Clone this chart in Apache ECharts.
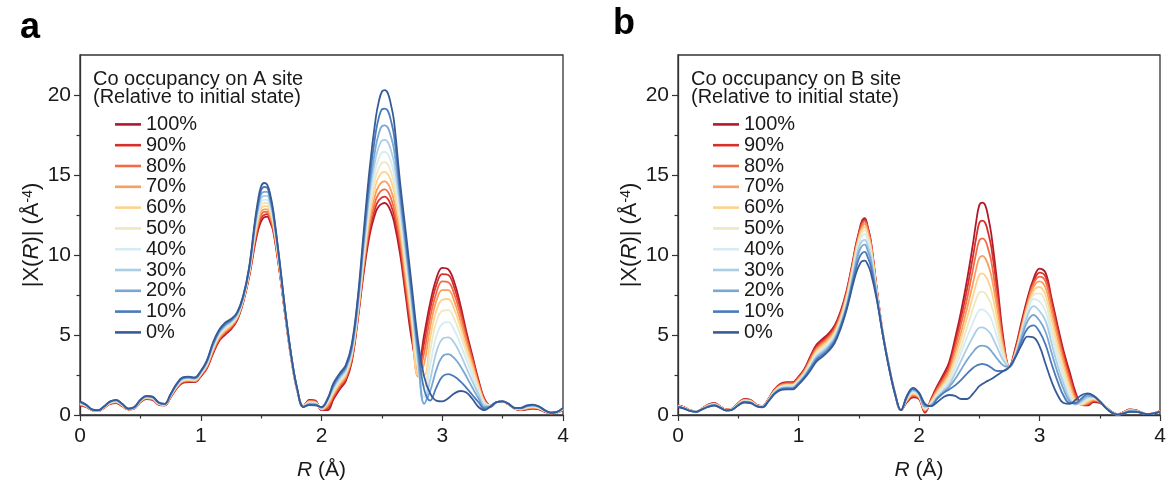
<!DOCTYPE html>
<html>
<head>
<meta charset="utf-8">
<script src="https://cdn.jsdelivr.net/npm/echarts@6/dist/echarts.min.js"></script>
<style>
  html, body { margin: 0; padding: 0; background: #fff; }
  #chart { width: 1169px; height: 491px; }
</style>
</head>
<body>
<div id="chart"></div>
<script>
// Radial distance grid (Å)
const R = [0,.05,.1,.15,.2,.25,.3,.35,.4,.45,.5,.55,.6,.65,.7,.75,.8,.85,.9,.95,
  1,1.05,1.1,1.15,1.2,1.25,1.3,1.35,1.4,1.45,1.5,1.55,1.6,1.65,1.7,1.75,1.8,1.85,1.9,1.95,
  2,2.05,2.1,2.15,2.2,2.25,2.3,2.35,2.4,2.45,2.5,2.55,2.6,2.65,2.7,2.75,2.8,2.85,2.9,2.95,
  3,3.05,3.1,3.15,3.2,3.25,3.3,3.35,3.4,3.45,3.5,3.55,3.6,3.65,3.7,3.75,3.8,3.85,3.9,3.95,4];
// Extra samples around the two main peaks
const Rpeak = [1.475, 1.525, 1.575, 2.475, 2.525, 2.575];

const levels = ['100%','90%','80%','70%','60%','50%','40%','30%','20%','10%','0%'];
const levelColors = ['#b2182b','#d6302a','#f36b44','#fb9d5f','#fed28a','#eee8c2',
                     '#d6ebf4','#a9cee5','#79a6d2','#4a7aba','#375b98'];

const xTicks = [0, 1, 2, 3, 4];
const yTicks = [0, 5, 10, 15, 20];
const yMinorTicks = [2.5, 7.5, 12.5, 17.5];

// |X(R)| — Co occupancy on A site
const occA100 = [.60,.50,.30,.25,.45,.70,.75,.55,.35,.40,.80,1.00,.95,.65,.60,1.10,1.65,2.00,2.05,2.05,2.40,
  2.90,3.80,4.60,5.00,5.35,5.90,7.00,8.60,10.7,12.1,12.4,11.5,9.1,6.2,3.5,1.5,.55,.95,.90,.30,
  .30,1.0,1.6,2.1,3.3,5.9,8.9,11.3,12.7,13.2,13.1,12.1,10.1,7.3,4.6,3.0,5.0,7.0,8.5,9.2,
  9.1,8.3,6.9,5.2,3.7,2.2,1.0,.6,.8,.85,.65,.40,.30,.35,.40,.35,.20,.10,.15,.30];
const occA90 = [.62,.52,.30,.25,.46,.72,.77,.57,.35,.41,.82,1.02,.97,.67,.61,1.12,1.68,2.04,2.09,2.08,2.44,
  2.95,3.87,4.67,5.08,5.42,5.95,7.04,8.66,10.85,12.3,12.55,11.6,9.15,6.2,3.5,1.5,.55,.92,.87,.32,
  .40,1.1,1.7,2.2,3.4,6.0,9.1,11.6,13.05,13.6,13.5,12.5,10.5,7.6,4.9,2.7,4.5,6.6,8.1,8.8,
  8.75,7.95,6.6,5.0,3.55,2.1,.95,.6,.8,.85,.65,.40,.31,.37,.42,.37,.21,.10,.15,.31];
const occA80 = [.65,.53,.31,.26,.47,.73,.79,.58,.36,.42,.83,1.04,.99,.68,.62,1.14,1.71,2.07,2.12,2.11,2.47,
  3.00,3.94,4.74,5.15,5.48,6.00,7.08,8.72,11.0,12.5,12.7,11.7,9.2,6.25,3.55,1.5,.55,.88,.84,.34,
  .50,1.2,1.8,2.3,3.5,6.1,9.3,11.9,13.45,14.05,13.95,12.9,10.9,8.0,5.2,2.5,3.9,6.1,7.6,8.35,
  8.3,7.55,6.3,4.8,3.4,2.0,.9,.6,.8,.85,.66,.41,.33,.40,.45,.39,.22,.11,.16,.33];
const occA70 = [.67,.55,.31,.26,.48,.75,.81,.60,.36,.43,.85,1.06,1.01,.70,.63,1.16,1.74,2.11,2.16,2.14,2.51,
  3.05,4.01,4.81,5.23,5.55,6.05,7.12,8.78,11.15,12.7,12.85,11.85,9.3,6.3,3.55,1.5,.55,.85,.81,.36,
  .60,1.3,1.9,2.4,3.6,6.2,9.5,12.2,13.9,14.55,14.45,13.4,11.3,8.4,5.5,2.4,3.2,5.5,7.1,7.8,
  7.8,7.1,5.9,4.5,3.2,1.9,.85,.6,.8,.85,.66,.41,.34,.42,.47,.41,.23,.11,.16,.34];
const occA60 = [.70,.56,.32,.27,.49,.76,.83,.61,.37,.44,.86,1.08,1.03,.71,.64,1.18,1.77,2.14,2.19,2.17,2.54,
  3.10,4.08,4.88,5.30,5.61,6.10,7.16,8.84,11.3,12.9,13.05,12.0,9.35,6.3,3.6,1.55,.55,.82,.78,.38,
  .70,1.4,2.0,2.5,3.7,6.3,9.7,12.6,14.4,15.15,15.05,14.0,11.8,8.8,5.8,2.5,2.5,4.8,6.5,7.2,
  7.25,6.6,5.5,4.2,3.0,1.8,.8,.6,.8,.85,.67,.42,.36,.45,.50,.43,.24,.12,.17,.36];
const occA50 = [.72,.58,.32,.27,.50,.78,.85,.62,.37,.45,.88,1.10,1.05,.72,.65,1.20,1.80,2.18,2.23,2.20,2.58,
  3.15,4.15,4.95,5.38,5.68,6.15,7.20,8.90,11.45,13.1,13.25,12.1,9.45,6.35,3.6,1.55,.52,.78,.75,.40,
  .80,1.5,2.1,2.6,3.8,6.45,9.9,13.0,14.9,15.75,15.65,14.5,12.2,9.2,6.1,2.7,1.8,4.0,5.8,6.5,
  6.55,6.0,5.0,3.9,2.75,1.65,.75,.6,.8,.85,.67,.42,.37,.47,.52,.45,.25,.12,.17,.37];
const occA40 = [.75,.59,.33,.28,.51,.79,.87,.64,.38,.46,.89,1.12,1.07,.74,.66,1.22,1.83,2.21,2.26,2.23,2.61,
  3.20,4.22,5.02,5.45,5.74,6.20,7.24,8.96,11.6,13.3,13.45,12.25,9.5,6.4,3.6,1.55,.52,.75,.72,.42,
  .85,1.6,2.2,2.7,3.9,6.6,10.2,13.4,15.45,16.4,16.3,15.1,12.6,9.6,6.5,3.0,1.1,3.1,4.9,5.7,
  5.8,5.3,4.45,3.45,2.45,1.5,.7,.6,.8,.85,.68,.43,.39,.50,.55,.47,.26,.13,.18,.39];
const occA30 = [.77,.60,.33,.28,.52,.81,.89,.65,.38,.47,.91,1.14,1.09,.75,.67,1.24,1.86,2.25,2.30,2.26,2.65,
  3.25,4.29,5.09,5.53,5.81,6.25,7.28,9.02,11.75,13.55,13.7,12.4,9.6,6.4,3.65,1.55,.52,.72,.69,.44,
  .90,1.7,2.3,2.8,4.0,6.75,10.5,13.9,16.1,17.15,17.05,15.8,13.1,10.0,6.8,3.3,.7,2.2,3.9,4.75,
  4.85,4.5,3.8,2.95,2.1,1.3,.6,.55,.8,.85,.68,.43,.40,.52,.57,.49,.27,.13,.18,.40];
const occA20 = [.80,.62,.34,.29,.53,.82,.91,.67,.39,.48,.92,1.16,1.11,.77,.68,1.26,1.89,2.28,2.33,2.29,2.68,
  3.30,4.36,5.16,5.60,5.87,6.30,7.32,9.08,11.9,13.8,13.95,12.5,9.65,6.45,3.65,1.6,.5,.68,.66,.46,
  .95,1.8,2.4,2.9,4.1,6.9,10.8,14.3,16.8,18.05,17.95,16.6,13.6,10.4,7.1,3.7,.7,1.5,2.8,3.65,
  3.8,3.55,3.05,2.4,1.7,1.05,.5,.5,.8,.85,.69,.44,.42,.55,.60,.51,.28,.14,.19,.42];
const occA10 = [.82,.63,.34,.29,.54,.84,.93,.68,.39,.49,.94,1.18,1.13,.78,.69,1.28,1.92,2.32,2.37,2.32,2.72,
  3.35,4.43,5.23,5.68,5.94,6.35,7.36,9.14,12.05,14.05,14.2,12.65,9.75,6.5,3.7,1.6,.5,.65,.63,.48,
  1.0,1.9,2.5,3.0,4.25,7.1,11.1,14.9,17.7,19.1,19.0,17.5,14.1,10.8,7.5,4.1,1.6,.9,1.7,2.4,
  2.55,2.4,2.1,1.7,1.25,.8,.4,.5,.8,.85,.69,.44,.43,.57,.62,.53,.29,.14,.19,.43];
const occA0 = [.85,.65,.35,.30,.55,.85,.95,.70,.40,.50,.95,1.20,1.15,.80,.70,1.30,1.95,2.35,2.40,2.35,2.75,
  3.40,4.50,5.30,5.75,6.00,6.40,7.40,9.20,12.2,14.3,14.4,12.8,9.8,6.5,3.7,1.6,.5,.62,.60,.50,
  1.0,2.0,2.6,3.1,4.4,7.3,11.5,15.5,18.6,20.2,20.1,18.4,14.6,11.3,7.9,4.6,2.4,1.35,.9,.85,
  1.05,1.35,1.5,1.4,1.0,.5,.3,.55,.8,.85,.70,.45,.45,.60,.65,.55,.30,.15,.20,.45];

// Peak samples (at Rpeak), site A
const pkA100 = [11.55, 12.35, 12.05, 13.05, 13.25, 12.7];
const pkA90  = [11.7, 12.5, 12.2, 13.42, 13.65, 13.1];
const pkA80  = [11.9, 12.7, 12.3, 13.85, 14.1, 13.55];
const pkA70  = [12.05, 12.85, 12.45, 14.32, 14.6, 14.05];
const pkA60  = [12.25, 13.05, 12.65, 14.88, 15.2, 14.65];
const pkA50  = [12.45, 13.25, 12.8, 15.45, 15.8, 15.2];
const pkA40  = [12.6, 13.45, 13.0, 16.05, 16.45, 15.85];
const pkA30  = [12.8, 13.7, 13.2, 16.78, 17.2, 16.55];
const pkA20  = [13.0, 13.95, 13.4, 17.6, 18.1, 17.4];
const pkA10  = [13.2, 14.25, 13.6, 18.6, 19.15, 18.4];
const pkA0   = [13.45, 14.5, 13.8, 19.6, 20.3, 19.4];

// |X(R)| — Co occupancy on B site
const occB100 = [.60,.50,.30,.22,.40,.65,.75,.55,.35,.40,.75,1.00,.95,.65,.55,1.00,1.60,1.95,2.05,2.05,2.40,
  2.90,3.70,4.40,4.75,5.10,5.60,6.50,7.80,9.60,11.4,12.3,10.9,7.9,5.1,3.1,1.4,.3,.8,1.1,1.0,
  .15,1.0,1.8,2.5,3.3,4.8,6.5,8.5,10.8,13.1,13.1,11.3,8.2,4.8,3.0,4.2,5.8,7.3,8.5,9.15,
  8.9,7.3,5.6,4.0,2.7,1.4,.65,.6,.8,.75,.5,.2,.05,.2,.35,.3,.15,.05,.12,.25];
const occB90 = [.59,.49,.30,.22,.40,.64,.73,.54,.34,.39,.74,.98,.93,.64,.54,.99,1.57,1.91,2.01,2.01,2.35,
  2.84,3.61,4.30,4.64,4.99,5.49,6.39,7.70,9.50,11.3,12.2,10.85,7.85,5.1,3.1,1.4,.3,.84,1.16,1.04,
  .2,.95,1.7,2.35,3.1,4.5,6.1,7.9,10.0,12.0,12.0,10.5,7.7,4.6,3.0,4.1,5.6,7.1,8.3,8.9,
  8.65,7.1,5.4,3.8,2.5,1.25,.65,.65,.85,.8,.52,.2,.05,.19,.34,.29,.15,.05,.12,.25];
const occB80 = [.58,.48,.29,.22,.39,.62,.72,.53,.34,.39,.72,.96,.91,.63,.54,.97,1.54,1.87,1.97,1.97,2.30,
  2.78,3.52,4.19,4.53,4.88,5.38,6.28,7.60,9.40,11.2,12.1,10.75,7.8,5.1,3.1,1.4,.3,.88,1.22,1.08,
  .25,.9,1.6,2.2,2.9,4.2,5.7,7.3,9.2,10.9,10.9,9.6,7.1,4.4,3.0,4.0,5.5,7.0,8.2,8.65,
  8.35,6.8,5.1,3.55,2.25,1.1,.65,.7,.9,.82,.52,.2,.04,.18,.32,.28,.14,.05,.12,.24];
const occB70 = [.57,.47,.29,.21,.39,.61,.70,.52,.33,.38,.71,.93,.89,.62,.53,.96,1.51,1.83,1.92,1.92,2.25,
  2.72,3.43,4.09,4.42,4.77,5.27,6.17,7.50,9.30,11.1,11.95,10.65,7.75,5.1,3.1,1.4,.3,.92,1.28,1.12,
  .3,.85,1.5,2.05,2.7,3.9,5.2,6.7,8.3,9.8,9.8,8.7,6.6,4.2,3.0,3.9,5.4,6.9,8.0,8.35,
  7.95,6.4,4.8,3.3,2.0,.95,.65,.75,.95,.83,.5,.18,.04,.17,.31,.27,.14,.05,.11,.24];
const occB60 = [.56,.46,.28,.21,.38,.59,.68,.51,.32,.37,.69,.91,.87,.61,.52,.94,1.48,1.79,1.88,1.88,2.20,
  2.66,3.34,3.98,4.31,4.66,5.16,6.06,7.40,9.20,11.0,11.75,10.5,7.7,5.1,3.05,1.4,.3,.96,1.34,1.16,
  .35,.8,1.4,1.9,2.5,3.6,4.8,6.1,7.5,8.75,8.7,7.8,6.0,4.0,3.0,3.85,5.3,6.7,7.75,8.0,
  7.5,6.0,4.4,3.0,1.75,.85,.65,.85,1.0,.85,.5,.18,.04,.16,.29,.26,.14,.05,.11,.23];
const occB50 = [.55,.45,.28,.21,.38,.58,.67,.50,.32,.37,.68,.89,.85,.60,.52,.93,1.45,1.75,1.83,1.83,2.15,
  2.60,3.25,3.88,4.20,4.55,5.05,5.95,7.25,9.05,10.85,11.55,10.35,7.65,5.05,3.05,1.4,.3,1.0,1.4,1.2,
  .4,.75,1.3,1.8,2.3,3.3,4.3,5.5,6.7,7.65,7.6,6.9,5.4,3.8,3.0,3.8,5.2,6.6,7.5,7.6,
  7.05,5.5,4.0,2.65,1.5,.75,.7,.95,1.05,.87,.5,.17,.03,.15,.28,.25,.13,.05,.11,.23];
const occB40 = [.54,.44,.27,.21,.37,.56,.65,.49,.31,.36,.66,.87,.83,.59,.51,.91,1.42,1.71,1.79,1.79,2.10,
  2.54,3.16,3.77,4.09,4.44,4.94,5.84,7.10,8.90,10.7,11.3,10.15,7.6,5.05,3.05,1.35,.3,1.04,1.46,1.24,
  .45,.7,1.2,1.65,2.1,2.95,3.9,4.9,5.8,6.55,6.5,6.0,4.8,3.6,3.0,3.75,5.1,6.4,7.25,7.1,
  6.5,5.0,3.6,2.3,1.25,.7,.75,1.05,1.1,.88,.48,.16,.03,.14,.26,.24,.13,.05,.11,.22];
const occB30 = [.53,.43,.27,.20,.37,.55,.63,.48,.30,.35,.65,.85,.81,.58,.50,.90,1.39,1.67,1.74,1.74,2.05,
  2.48,3.07,3.67,3.98,4.33,4.83,5.73,6.95,8.70,10.45,10.95,9.9,7.5,5.05,3.05,1.35,.3,1.08,1.52,1.28,
  .5,.65,1.1,1.5,1.9,2.6,3.4,4.2,4.9,5.45,5.4,5.0,4.2,3.4,3.0,3.7,5.0,6.2,6.8,6.5,
  5.9,4.5,3.1,1.95,1.0,.65,.85,1.1,1.13,.87,.47,.16,.03,.13,.25,.23,.13,.05,.1,.22];
const occB20 = [.52,.42,.26,.20,.36,.53,.61,.47,.29,.34,.63,.82,.79,.57,.49,.88,1.36,1.63,1.70,1.70,2.00,
  2.42,2.98,3.56,3.87,4.22,4.72,5.62,6.80,8.50,10.15,10.65,9.65,7.4,5.0,3.0,1.35,.3,1.12,1.58,1.32,
  .55,.6,1.05,1.4,1.75,2.25,2.85,3.45,3.95,4.3,4.3,4.0,3.5,3.1,3.0,3.65,4.8,5.85,6.25,5.9,
  5.2,3.9,2.65,1.6,.85,.7,.95,1.2,1.15,.86,.46,.15,.02,.12,.23,.22,.12,.05,.1,.21];
const occB10 = [.51,.41,.26,.20,.36,.52,.60,.46,.29,.34,.62,.80,.77,.56,.49,.87,1.33,1.59,1.65,1.65,1.95,
  2.36,2.89,3.46,3.76,4.11,4.61,5.51,6.70,8.30,9.75,10.2,9.3,7.3,5.0,3.0,1.35,.3,1.16,1.64,1.36,
  .62,.55,1.0,1.35,1.6,1.85,2.2,2.6,2.95,3.15,3.15,2.95,2.75,2.75,3.0,3.65,4.6,5.4,5.6,5.2,
  4.4,3.2,2.1,1.2,.75,.75,1.05,1.3,1.18,.85,.45,.15,.02,.11,.22,.21,.12,.05,.1,.21];
const occB0 = [.50,.40,.25,.20,.35,.50,.58,.45,.28,.33,.60,.78,.75,.55,.48,.85,1.30,1.55,1.60,1.60,1.90,
  2.30,2.80,3.35,3.65,4.00,4.50,5.40,6.60,8.10,9.3,9.65,8.9,7.2,5.0,3.0,1.35,.3,1.2,1.7,1.4,
  .7,.55,.8,1.1,1.25,1.2,1.0,1.0,1.35,1.8,2.05,2.25,2.5,2.75,3.0,3.6,4.35,4.9,4.85,4.3,
  3.2,2.1,1.25,.75,.7,.95,1.25,1.35,1.2,.85,.45,.15,.02,.1,.2,.2,.12,.05,.1,.2];

// Peak samples (at Rpeak), site B
const pkB100 = [10.6, 12.1, 11.75, 12.1, 13.27, 12.35];
const pkB90  = [10.5, 12.0, 11.7, 11.1, 12.15, 11.35];
const pkB80  = [10.4, 11.85, 11.6, 10.15, 11.04, 10.35];
const pkB70  = [10.3, 11.7, 11.45, 9.15, 9.94, 9.35];
const pkB60  = [10.2, 11.55, 11.25, 8.2, 8.85, 8.35];
const pkB50  = [10.05, 11.35, 11.1, 7.25, 7.71, 7.3];
const pkB40  = [9.9, 11.15, 10.85, 6.25, 6.6, 6.3];
const pkB30  = [9.65, 10.85, 10.55, 5.25, 5.48, 5.25];
const pkB20  = [9.4, 10.55, 10.25, 4.17, 4.33, 4.2];
const pkB10  = [9.1, 10.1, 9.85, 3.08, 3.19, 3.08];
const pkB0   = [8.8, 9.6, 9.4, 1.58, 1.93, 2.15];

const curvesA = [occA100, occA90, occA80, occA70, occA60, occA50, occA40, occA30, occA20, occA10, occA0];
const peaksA  = [pkA100, pkA90, pkA80, pkA70, pkA60, pkA50, pkA40, pkA30, pkA20, pkA10, pkA0];
const curvesB = [occB100, occB90, occB80, occB70, occB60, occB50, occB40, occB30, occB20, occB10, occB0];
const peaksB  = [pkB100, pkB90, pkB80, pkB70, pkB60, pkB50, pkB40, pkB30, pkB20, pkB10, pkB0];

const FONT = 'Liberation Sans, Arial, sans-serif';
const INK = '#1a1a1a';

const grids = [
  { left: 80, top: 55, width: 483, height: 360 },
  { left: 678, top: 55, width: 482, height: 360 }
];

function xAxisFor(g) {
  return {
    type: 'value', gridIndex: g, min: 0, max: 4, interval: 1,
    axisLine: { show: true, onZero: false, lineStyle: { color: '#333', width: 1.3 } },
    axisTick: { show: true, inside: false, length: 6, lineStyle: { color: '#333', width: 1.2 } },
    minorTick: { show: true, splitNumber: 2, length: 3.5, lineStyle: { color: '#333', width: 1.2 } },
    splitLine: { show: false },
    axisLabel: { fontFamily: FONT, fontSize: 21, color: INK, margin: 11 },
    name: '{i|R} (Å)', nameLocation: 'middle', nameGap: 45,
    nameTextStyle: {
      fontFamily: FONT, fontSize: 21, color: INK,
      rich: { i: { fontFamily: FONT, fontSize: 21, fontStyle: 'italic', color: INK } }
    }
  };
}

function yAxisMain(g) {
  return {
    type: 'value', gridIndex: g, min: 0, max: 22.5, interval: 2.5, position: 'left',
    axisLine: { show: true, onZero: false, lineStyle: { color: '#333', width: 1.3 } },
    axisTick: { show: true, inside: false, length: 6, customValues: yTicks, lineStyle: { color: '#333', width: 1.2 } },
    splitLine: { show: false },
    axisLabel: { fontFamily: FONT, fontSize: 21, color: INK, margin: 9, customValues: yTicks },
    name: '|X({i|R})| (Å{s|-4})', nameLocation: 'middle', nameGap: 37,
    nameTextStyle: {
      fontFamily: FONT, fontSize: 22, color: INK,
      rich: {
        i: { fontFamily: FONT, fontSize: 22, fontStyle: 'italic', color: INK },
        s: { fontFamily: FONT, fontSize: 14, color: INK, verticalAlign: 'top' }
      }
    }
  };
}

function yAxisMinor(g) {
  return {
    type: 'value', gridIndex: g, min: 0, max: 22.5, interval: 2.5, position: 'left',
    axisLine: { show: false },
    axisTick: { show: true, inside: false, length: 3.5, customValues: yMinorTicks, lineStyle: { color: '#333', width: 1.2 } },
    axisLabel: { show: false },
    splitLine: { show: false }
  };
}

// Combine the regular grid with the extra peak samples, ordered by R
function toPoints(vals, peakVals) {
  const pts = R.map((r, i) => [r, vals[i]])
    .concat(Rpeak.map((r, i) => [r, peakVals[i]]));
  pts.sort((a, b) => a[0] - b[0]);
  return pts;
}

function lineSeries(curves, peaks, g) {
  return curves.map((vals, k) => ({
    name: levels[k], type: 'line',
    xAxisIndex: g, yAxisIndex: g * 2,
    data: toPoints(vals, peaks[k]),
    symbol: 'none', showSymbol: false, smooth: 0.4,
    lineStyle: { color: levelColors[k], width: 1.8 },
    itemStyle: { color: levelColors[k] },
    z: 2 + k
  }));
}

function legendFor(left) {
  return {
    left: left, top: 114, orient: 'vertical', padding: 0, itemGap: 0,
    itemWidth: 26, itemHeight: 2.6, icon: 'rect', selectedMode: false,
    data: levels,
    textStyle: { fontFamily: FONT, fontSize: 20, color: INK, lineHeight: 20.8 }
  };
}

function titleFor(left, site) {
  return {
    text: 'Co occupancy on ' + site + ' site\n(Relative to initial state)',
    left: left, top: 70, padding: 0,
    textStyle: { fontFamily: FONT, fontSize: 20, fontWeight: 'normal', color: INK, lineHeight: 18.5 }
  };
}

const chart = echarts.init(document.getElementById('chart'), null, { renderer: 'canvas' });
chart.setOption({
  animation: false,
  backgroundColor: '#fff',
  grid: grids.map(g => Object.assign({ show: true, borderColor: '#333', borderWidth: 1.3, containLabel: false }, g)),
  xAxis: [xAxisFor(0), xAxisFor(1)],
  yAxis: [yAxisMain(0), yAxisMinor(0), yAxisMain(1), yAxisMinor(1)],
  title: [titleFor(93, 'A'), titleFor(691, 'B')],
  legend: [legendFor(115), legendFor(713)],
  graphic: [
    { type: 'text', left: 20, top: 10, style: { text: 'a', font: 'bold 36px ' + FONT, fill: '#000' } },
    { type: 'text', left: 613, top: 6, style: { text: 'b', font: 'bold 36px ' + FONT, fill: '#000' } }
  ],
  series: lineSeries(curvesA, peaksA, 0).concat(lineSeries(curvesB, peaksB, 1))
});
</script>
</body>
</html>
